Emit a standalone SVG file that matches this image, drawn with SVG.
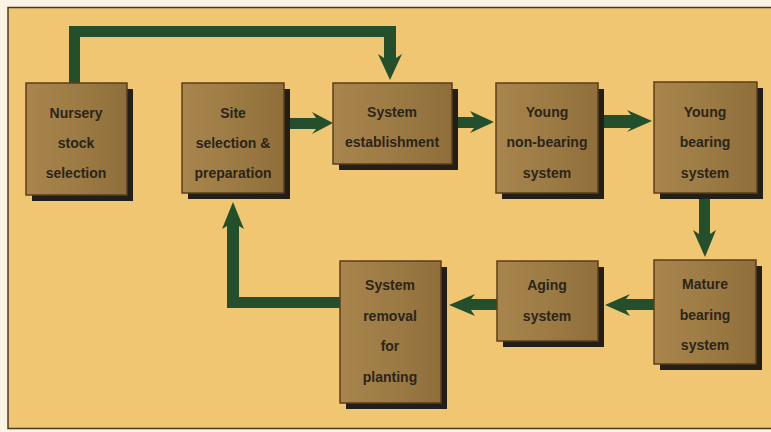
<svg xmlns="http://www.w3.org/2000/svg" width="771" height="432" viewBox="0 0 771 432">
<defs>
<linearGradient id="boxg" x1="0" y1="0" x2="1" y2="0">
<stop offset="0" stop-color="#a8854d"/>
<stop offset="0.5" stop-color="#9d7b44"/>
<stop offset="1" stop-color="#8f6e3b"/>
</linearGradient>
<style>
.shadow{fill:#221e19}
.box{fill:url(#boxg);stroke:#5c3e18;stroke-width:1.5}
.lbl{font-family:"Liberation Sans",Arial,sans-serif;font-weight:bold;font-size:14px;fill:#2b2519;text-anchor:middle}
.arr{fill:#244f2d}
</style>
</defs>
<rect x="0" y="0" width="771" height="432" fill="#fbf3e3"/>
<rect x="8" y="7.5" width="770" height="421" fill="#f0c673" stroke="#4a3a22" stroke-width="1.5"/>

<g id="connectors">
<path class="arr" d="M69,83 L69,26 L396,26 L396,58 L402,54 L390,80 L378,54 L384,58 L384,37 L80,37 L80,83 Z"/>
<path class="arr" d="M290,118 L316,118 L312,112 L333,123 L312,134 L316,129 L290,129 Z"/>
<path class="arr" d="M457,117 L474,117 L470,111 L494,122 L470,133 L474,128 L457,128 Z"/>
<path class="arr" d="M603,115 L631,115 L627,110 L652,121 L627,132 L631,128 L603,128 Z"/>
<path class="arr" d="M699,199 L710,199 L710,234 L716,230 L705,257 L693,230 L699,234 Z"/>
<path class="arr" d="M654,299 L626,299 L630,294 L605,305 L630,316 L626,310 L654,310 Z"/>
<path class="arr" d="M497,299 L471,299 L475,294 L449,305 L475,316 L471,310 L497,310 Z"/>
<path class="arr" d="M340,297 L239,297 L239,226 L244,229 L233,202 L222,229 L227,226 L227,308 L340,308 Z"/>
</g>

<g id="nursery">
<rect class="shadow" x="32" y="89" width="101" height="112"/>
<rect class="box" x="26" y="83" width="101" height="112"/>
<text class="lbl" x="76" y="118">Nursery</text>
<text class="lbl" x="76" y="148">stock</text>
<text class="lbl" x="76" y="178">selection</text>
</g>

<g id="site">
<rect class="shadow" x="188" y="89" width="102" height="110"/>
<rect class="box" x="182" y="83" width="102" height="110"/>
<text class="lbl" x="233" y="118">Site</text>
<text class="lbl" x="233" y="148">selection &amp;</text>
<text class="lbl" x="233" y="178">preparation</text>
</g>

<g id="establishment">
<rect class="shadow" x="339" y="89" width="119" height="81"/>
<rect class="box" x="333" y="83" width="119" height="81"/>
<text class="lbl" x="392" y="117">System</text>
<text class="lbl" x="392" y="147">establishment</text>
</g>

<g id="young-nonbearing">
<rect class="shadow" x="502" y="89" width="102" height="110"/>
<rect class="box" x="496" y="83" width="102" height="110"/>
<text class="lbl" x="547" y="117">Young</text>
<text class="lbl" x="547" y="147">non-bearing</text>
<text class="lbl" x="547" y="178">system</text>
</g>

<g id="young-bearing">
<rect class="shadow" x="660" y="88" width="103" height="111"/>
<rect class="box" x="654" y="82" width="103" height="111"/>
<text class="lbl" x="705" y="117">Young</text>
<text class="lbl" x="705" y="147">bearing</text>
<text class="lbl" x="705" y="178">system</text>
</g>

<g id="mature">
<rect class="shadow" x="660" y="266" width="102" height="104"/>
<rect class="box" x="654" y="260" width="102" height="104"/>
<text class="lbl" x="705" y="289">Mature</text>
<text class="lbl" x="705" y="320">bearing</text>
<text class="lbl" x="705" y="350">system</text>
</g>

<g id="aging">
<rect class="shadow" x="503" y="267" width="101" height="80"/>
<rect class="box" x="497" y="261" width="101" height="80"/>
<text class="lbl" x="547" y="290">Aging</text>
<text class="lbl" x="547" y="321">system</text>
</g>

<g id="removal">
<rect class="shadow" x="346" y="267" width="101" height="142"/>
<rect class="box" x="340" y="261" width="101" height="142"/>
<text class="lbl" x="390" y="290">System</text>
<text class="lbl" x="390" y="321">removal</text>
<text class="lbl" x="390" y="351">for</text>
<text class="lbl" x="390" y="382">planting</text>
</g>
</svg>
